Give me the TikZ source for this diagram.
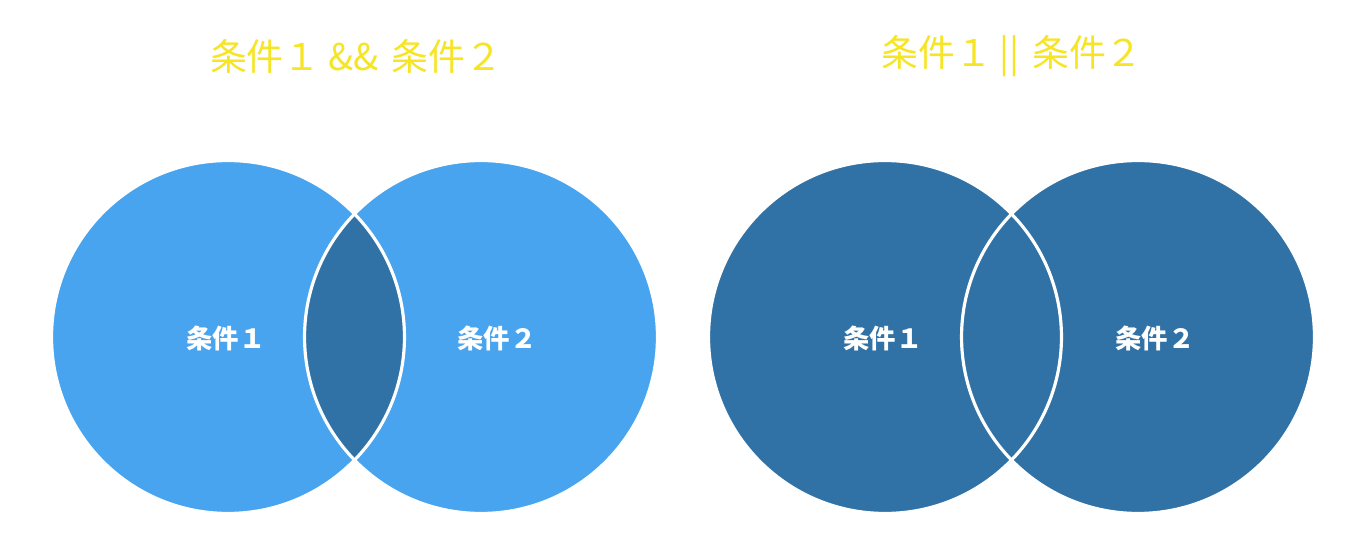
\documentclass[tikz,border=0pt]{standalone}
\usepackage{fontspec}
\newfontfamily\jp{Noto Sans CJK JP}
\usepackage{xcolor}
\usepackage{tikz}
\usetikzlibrary{positioning}
\definecolor{setlight}{HTML}{48A4EF}
\definecolor{setdark}{HTML}{3172A6}
\definecolor{titleyellow}{HTML}{F6E524}

\begin{document}
\begin{tikzpicture}[x=0.02cm, y=-0.02cm,
    title/.style={text=titleyellow, font=\jp\fontsize{21}{25}\selectfont},
    setlabel/.style={text=white, font=\jp\bfseries\fontsize{15}{18}\selectfont},
    rim/.style={draw=white, line width=1.8pt}]
    \useasboundingbox (0,0) rectangle (1366,540);

    % centres
    \coordinate (a1) at (228,337);
    \coordinate (a2) at (481,337);
    \coordinate (o1) at (885,337);
    \coordinate (o2) at (1138,337);

    % AND: light circles, dark lens
    \fill [setlight] (a1) circle [radius=3.53cm];
    \fill [setlight] (a2) circle [radius=3.53cm];
    \begin{scope}
        \clip (a1) circle [radius=3.53cm];
        \fill [setdark] (a2) circle [radius=3.53cm];
    \end{scope}

    % OR: both dark
    \foreach \c in {o1,o2} {
        \fill [setdark] (\c) circle [radius=3.53cm];
    }

    % outlines
    \foreach \c in {a1,a2,o1,o2} {
        \draw [rim] (\c) circle [radius=3.53cm];
    }

    % labels
    \node [setlabel] (and1) at (226,338) {条件１};
    \node [setlabel] (and2) at (497,338) {条件２};
    \node [setlabel] (or1) at (883,338) {条件１};
    \node [setlabel] (or2) at (1155,338) {条件２};

    \node [title] (andtitle) at (356,56) {条件１\hspace{0.2em}\&\&\hspace{0.35em}条件２};
    \node [title] (ortitle) at (1012,56) {条件１\hspace{0.2em}||\hspace{0.35em}条件２};
\end{tikzpicture}
\end{document}
